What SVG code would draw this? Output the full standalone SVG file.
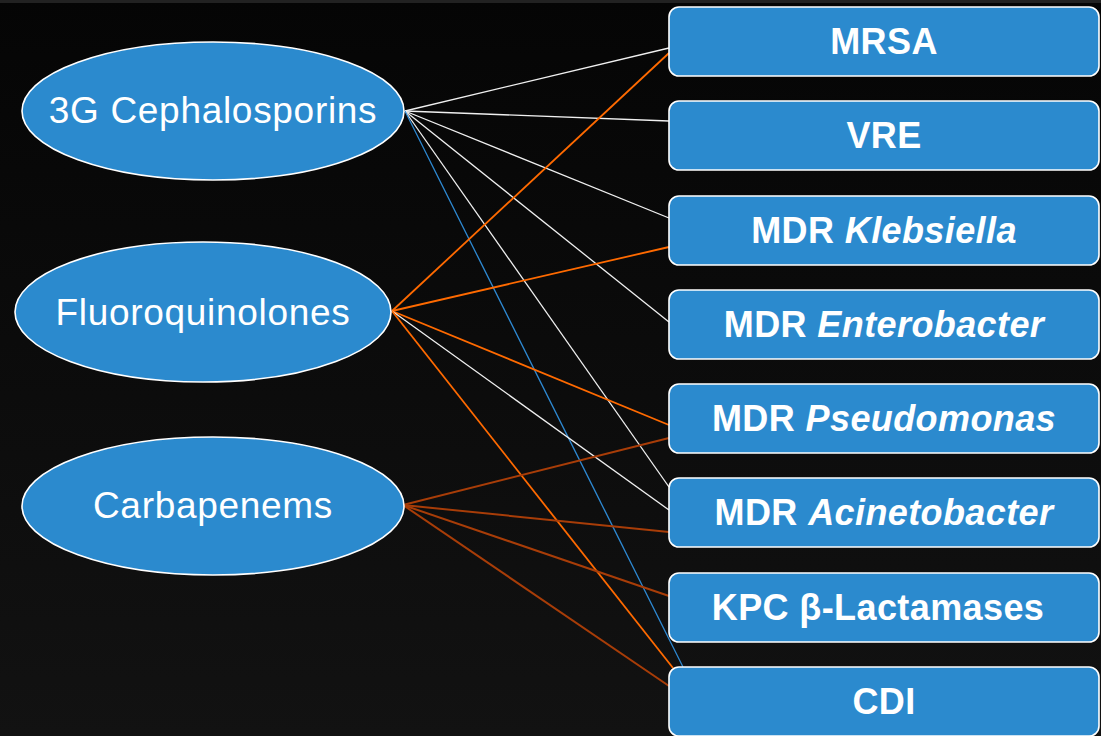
<svg xmlns="http://www.w3.org/2000/svg" width="1101" height="736" viewBox="0 0 1101 736">
<defs>
<linearGradient id="bg" x1="0" y1="0" x2="0" y2="1">
<stop offset="0" stop-color="#050505"/>
<stop offset="1" stop-color="#121212"/>
</linearGradient>
<style>
.node{fill:#2b8ace;stroke:#ffffff;stroke-width:1.6}
.et{font-family:"Liberation Sans",Arial,sans-serif;font-size:37px;letter-spacing:0.7px;fill:#ffffff;text-anchor:middle}
.bt{font-family:"Liberation Sans",Arial,sans-serif;font-size:36px;letter-spacing:0.4px;font-weight:bold;fill:#ffffff;text-anchor:middle}
.it{font-style:italic}
.w{stroke:#f0f0f0;stroke-width:1.3;fill:none}
.o{stroke:#ff6a00;stroke-width:1.8;fill:none}
.d{stroke:#a83d08;stroke-width:2;fill:none}
.b{stroke:#2e8ad4;stroke-width:1.3;fill:none}
</style>
</defs>
<rect x="0" y="0" width="1101" height="736" fill="url(#bg)"/>
<rect x="0" y="0" width="1101" height="3" fill="#222222"/>
<g id="connectors">
<line class="w" x1="405" y1="111" x2="669" y2="48"/>
<line class="w" x1="405" y1="111" x2="669" y2="121"/>
<line class="w" x1="405" y1="111" x2="669" y2="218"/>
<line class="w" x1="405" y1="111" x2="669" y2="322"/>
<line class="w" x1="405" y1="111" x2="669" y2="487"/>
<line class="b" x1="405" y1="111" x2="683" y2="667"/>
<line class="o" x1="392" y1="311" x2="669" y2="53"/>
<line class="o" x1="392" y1="311" x2="669" y2="247"/>
<line class="o" x1="392" y1="311" x2="669" y2="425"/>
<line class="w" x1="392" y1="311" x2="669" y2="510"/>
<line class="o" x1="392" y1="311" x2="673" y2="668"/>
<line class="d" x1="403" y1="505" x2="669" y2="438"/>
<line class="d" x1="403" y1="505" x2="669" y2="532"/>
<line class="d" x1="403" y1="505" x2="669" y2="596"/>
<line class="d" x1="403" y1="505" x2="669" y2="686"/>
</g>
<g id="n-3g">
<ellipse class="node" cx="213" cy="111" rx="191" ry="69"/>
<text class="et" x="213" y="123">3G Cephalosporins</text>
</g>
<g id="n-fq">
<ellipse class="node" cx="203" cy="312" rx="188" ry="70"/>
<text class="et" x="203" y="325">Fluoroquinolones</text>
</g>
<g id="n-carb">
<ellipse class="node" cx="213" cy="506" rx="191" ry="69"/>
<text class="et" x="213" y="518">Carbapenems</text>
</g>
<g id="n-mrsa">
<rect class="node" x="669" y="7" width="430" height="69" rx="10"/>
<text class="bt" x="884" y="54">MRSA</text>
</g>
<g id="n-vre">
<rect class="node" x="669" y="101" width="430" height="69" rx="10"/>
<text class="bt" x="884" y="148">VRE</text>
</g>
<g id="n-kleb">
<rect class="node" x="669" y="196" width="430" height="69" rx="10"/>
<text class="bt" x="884" y="243">MDR <tspan class="it">Klebsiella</tspan></text>
</g>
<g id="n-entero">
<rect class="node" x="669" y="290" width="430" height="69" rx="10"/>
<text class="bt" x="884" y="337">MDR <tspan class="it">Enterobacter</tspan></text>
</g>
<g id="n-pseudo">
<rect class="node" x="669" y="384" width="430" height="69" rx="10"/>
<text class="bt" x="884" y="431">MDR <tspan class="it">Pseudomonas</tspan></text>
</g>
<g id="n-acineto">
<rect class="node" x="669" y="478" width="430" height="69" rx="10"/>
<text class="bt" x="884" y="525">MDR <tspan class="it">Acinetobacter</tspan></text>
</g>
<g id="n-kpc">
<rect class="node" x="669" y="573" width="430" height="69" rx="10"/>
<text class="bt" x="878" y="620">KPC β-Lactamases</text>
</g>
<g id="n-cdi">
<rect class="node" x="669" y="667" width="430" height="69" rx="10"/>
<text class="bt" x="884" y="714">CDI</text>
</g>
</svg>
